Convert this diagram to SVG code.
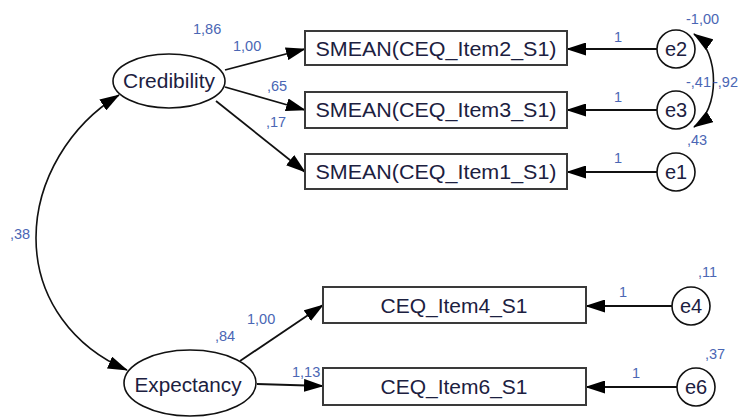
<svg xmlns="http://www.w3.org/2000/svg" width="745" height="418" viewBox="0 0 745 418">
<defs>
<marker id="ah" viewBox="0 0 20 13" refX="19" refY="6.5" markerWidth="20" markerHeight="13" markerUnits="userSpaceOnUse" orient="auto-start-reverse"><path d="M0,0 L20,6.5 L0,13 z" fill="#000"/></marker>
<style>
.box{fill:#fff;stroke:#3a3a3a;stroke-width:2}
.lat{fill:#fff;stroke:#111;stroke-width:1.6}
.err{fill:#fff;stroke:#111;stroke-width:1.6}
.nt{font-family:"Liberation Sans",Arial,sans-serif;font-size:20px;fill:#1c2040;text-anchor:middle}
.num{font-family:"Liberation Sans",Arial,sans-serif;font-size:14.5px;fill:#4a66b4}
.c{fill:none;stroke:#111;stroke-width:1.8;marker-end:url(#ah)}
.cov{fill:none;stroke:#111;stroke-width:1.6;marker-end:url(#ah);marker-start:url(#ah)}
</style>
</defs>
<rect width="745" height="418" fill="#fff"/>
<g id="connectors">
<path class="c" d="M225,70 L305,49"/>
<path class="c" d="M225,87 L305,110"/>
<path class="c" d="M216,101 L305,172"/>
<path class="c" d="M657,49 L567,49"/>
<path class="c" d="M657,110 L567,110"/>
<path class="c" d="M657,172 L567,172"/>
<path class="c" d="M240,361 L323,305"/>
<path class="c" d="M257,384 L323,386"/>
<path class="c" d="M672,306 L586,306"/>
<path class="c" d="M677,387 L586,387"/>
<path class="cov" d="M119,95 C70,125 36,180 36,238 C36,300 75,348 127,370"/>
<path class="cov" d="M694,34 C720,52 720,110 694,127"/>
</g>
<g id="Credibility"><ellipse class="lat" cx="169" cy="81" rx="56" ry="27"/><text class="nt" x="169" y="88" textLength="92" lengthAdjust="spacingAndGlyphs">Credibility</text></g>
<g id="Expectancy"><ellipse class="lat" cx="190" cy="383" rx="66" ry="33"/><text class="nt" x="188" y="392" textLength="107" lengthAdjust="spacingAndGlyphs">Expectancy</text></g>
<g id="item2"><rect class="box" x="305" y="31" width="262" height="34"/><text class="nt" x="436" y="55.5" textLength="241" lengthAdjust="spacingAndGlyphs">SMEAN(CEQ_Item2_S1)</text></g>
<g id="item3"><rect class="box" x="305" y="92" width="262" height="36"/><text class="nt" x="436" y="117" textLength="241" lengthAdjust="spacingAndGlyphs">SMEAN(CEQ_Item3_S1)</text></g>
<g id="item1"><rect class="box" x="305" y="154" width="262" height="35"/><text class="nt" x="436" y="179" textLength="241" lengthAdjust="spacingAndGlyphs">SMEAN(CEQ_Item1_S1)</text></g>
<g id="item4"><rect class="box" x="323" y="287" width="263" height="36"/><text class="nt" x="454" y="312.5" textLength="147" lengthAdjust="spacingAndGlyphs">CEQ_Item4_S1</text></g>
<g id="item6"><rect class="box" x="323" y="368" width="263" height="37"/><text class="nt" x="454" y="394" textLength="147" lengthAdjust="spacingAndGlyphs">CEQ_Item6_S1</text></g>
<g id="e2"><circle class="err" cx="676" cy="49" r="19"/><text class="nt" x="676" y="56">e2</text></g>
<g id="e3"><circle class="err" cx="676" cy="110" r="19"/><text class="nt" x="676" y="117">e3</text></g>
<g id="e1"><circle class="err" cx="676" cy="172" r="19"/><text class="nt" x="676" y="179">e1</text></g>
<g id="e4"><circle class="err" cx="691" cy="306" r="19"/><text class="nt" x="691" y="313">e4</text></g>
<g id="e6"><circle class="err" cx="696" cy="387" r="19"/><text class="nt" x="696" y="394">e6</text></g>
<g id="labels">
<text class="num" x="193" y="34">1,86</text>
<text class="num" x="233" y="51">1,00</text>
<text class="num" x="267" y="91">,65</text>
<text class="num" x="266" y="127">,17</text>
<text class="num" x="614" y="42">1</text>
<text class="num" x="614" y="102">1</text>
<text class="num" x="614" y="163">1</text>
<text class="num" x="686" y="24">-1,00</text>
<text class="num" x="686" y="87">-,41</text>
<text class="num" x="713" y="87">-,92</text>
<text class="num" x="687" y="145">,43</text>
<text class="num" x="10" y="239">,38</text>
<text class="num" x="215" y="341">,84</text>
<text class="num" x="247" y="324">1,00</text>
<text class="num" x="292" y="377">1,13</text>
<text class="num" x="698" y="277">,11</text>
<text class="num" x="619" y="297">1</text>
<text class="num" x="632" y="378">1</text>
<text class="num" x="705" y="359">,37</text>
</g>
</svg>
